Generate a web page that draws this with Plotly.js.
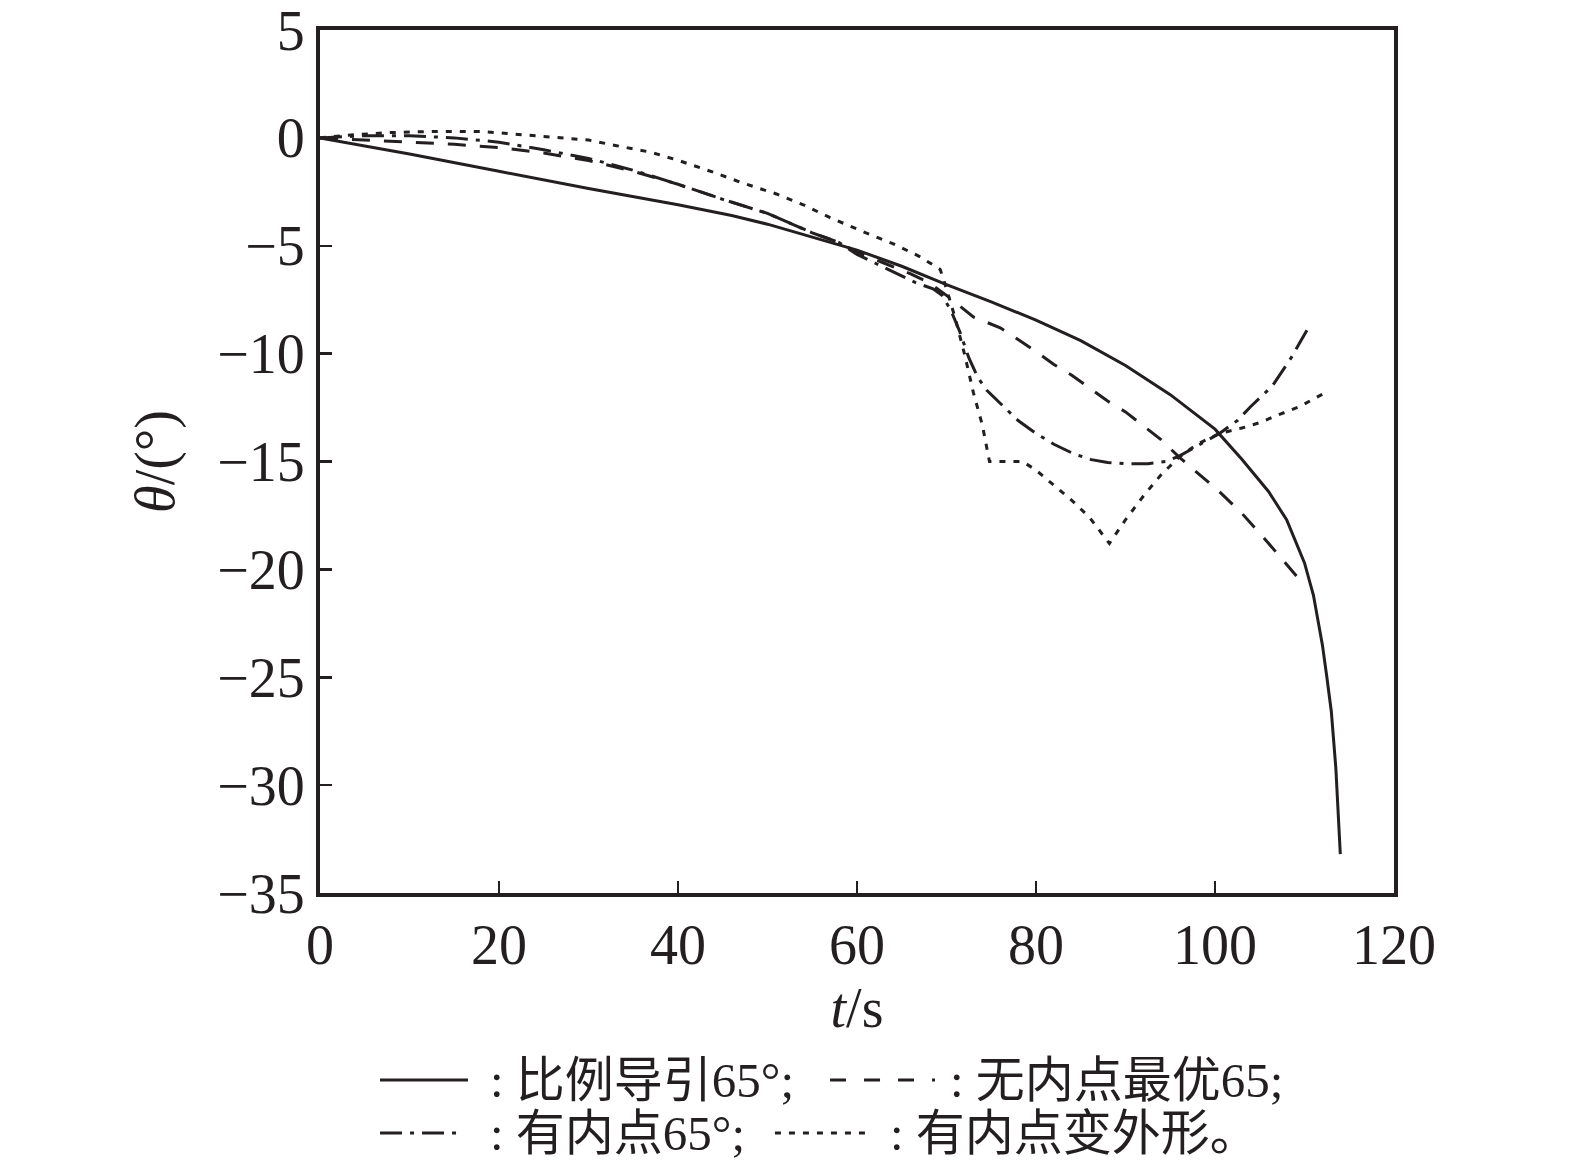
<!DOCTYPE html>
<html>
<head>
<meta charset="utf-8">
<script src="https://cdn.plot.ly/plotly-3.0.1.min.js"></script>
<style>
  body { margin: 0; background: #fff; }
  #chart { width: 1575px; height: 1169px; }
</style>
</head>
<body>
<div id="chart"></div>
<script>
// 比例导引65°
var tPN = [0, 10, 20, 30, 40, 46, 50, 55, 60, 65, 70, 75, 80, 85, 90, 95, 100, 103, 106, 108, 110, 111, 112, 112.5, 113, 113.5, 113.8, 114];
var thPN = [0, -0.75, -1.55, -2.35, -3.1, -3.6, -4.0, -4.6, -5.2, -5.95, -6.8, -7.6, -8.45, -9.4, -10.55, -11.9, -13.5, -14.9, -16.4, -17.7, -19.7, -21.2, -23.5, -25, -26.6, -29.2, -31.6, -33.2];

// 无内点最优65
var tNo = [0, 5, 10, 15, 20, 25, 30, 35, 40, 45, 50, 55, 58, 60, 63, 66, 68, 70, 73, 76, 78, 80, 82, 84, 86, 88, 90, 92, 94, 96, 98, 100.5, 103, 106, 109.5];
var thNo = [0, -0.1, -0.2, -0.3, -0.45, -0.7, -1.05, -1.55, -2.15, -2.85, -3.5, -4.4, -4.85, -5.3, -5.8, -6.3, -6.7, -7.3, -8.3, -8.8, -9.35, -9.9, -10.5, -11.0, -11.6, -12.2, -12.7, -13.35, -14.0, -14.8, -15.5, -16.4, -17.4, -18.8, -20.5];

// 有内点65°
var tIn = [0, 5, 10, 15, 20, 25, 30, 35, 40, 45, 50, 55, 58, 60, 62, 64.5, 66.5, 68.5, 69.5, 70.5, 71.5, 72.5, 73.5, 74.5, 76, 78, 80, 82, 84, 86, 88, 90, 92.5, 94.5, 96, 98, 100.5, 102.5, 104, 106.4, 108.5, 110.7];
var thIn = [0, 0.1, 0.1, 0, -0.2, -0.55, -0.95, -1.5, -2.15, -2.85, -3.5, -4.4, -4.85, -5.4, -5.8, -6.3, -6.7, -7.0, -7.3, -8.0, -9.0, -10.2, -11.1, -11.7, -12.3, -13.1, -13.7, -14.2, -14.6, -14.9, -15.05, -15.1, -15.1, -15.0, -14.75, -14.3, -13.7, -13.1, -12.45, -11.5, -10.2, -8.6];

// 有内点变外形
var tShape = [0, 3, 8, 13, 18, 21, 24, 27, 30, 33, 37, 40, 44, 47, 51, 54, 57, 61, 64, 67, 69.3, 70, 71, 72, 73, 74, 74.8, 78.5, 80, 82, 84, 86, 88.2, 90, 92, 94, 96, 98, 100.5, 103, 105, 107, 109.5, 111, 112.4];
var thShape = [0, 0.12, 0.25, 0.3, 0.3, 0.2, 0.1, 0, -0.1, -0.35, -0.67, -1.04, -1.6, -2.06, -2.6, -3.1, -3.7, -4.4, -4.9, -5.5, -6.1, -7.0, -8.4, -10.0, -11.8, -13.3, -15, -15, -15.4, -16.1, -16.8, -17.6, -18.8, -17.7, -16.6, -15.6, -14.8, -14.2, -13.7, -13.45, -13.2, -12.85, -12.45, -12.1, -11.8];

var names = ['比例导引65°;', '无内点最优65;', '有内点65°;', '有内点变外形。'];
var xTicks = [0, 20, 40, 60, 80, 100, 120];
var yTicks = [5, 0, -5, -10, -15, -20, -25, -30, -35];

var ink = '#231f20';
var serif = 'Liberation Serif, Times New Roman, serif';
var cjk = 'Liberation Serif, Noto Sans CJK SC, serif';

var dashes = ['solid', '18px,14px', '22px,8px,4px,8px', '6px,8px'];

var data = [
  {x: tPN, y: thPN, name: names[0], type: 'scatter', mode: 'lines', line: {color: ink, width: 3, dash: dashes[0]}},
  {x: tNo, y: thNo, name: names[1], type: 'scatter', mode: 'lines', line: {color: ink, width: 3, dash: dashes[1]}},
  {x: tIn, y: thIn, name: names[2], type: 'scatter', mode: 'lines', line: {color: ink, width: 3, dash: dashes[2]}},
  {x: tShape, y: thShape, name: names[3], type: 'scatter', mode: 'lines', line: {color: ink, width: 3, dash: dashes[3]}}
];

// legend drawn by hand, two rows like the original figure
var row1 = -0.2167, row2 = -0.2781;
var samples = [
  {x0: 0.0559, x1: 0.1378, y: row1, dash: 'solid'},
  {x0: 0.4749, x1: 0.5726, y: row1, dash: '16px,18px'},
  {x0: 0.0559, x1: 0.1322, y: row2, dash: '22px,8px,4px,8px'},
  {x0: 0.4236, x1: 0.5102, y: row2, dash: '6px,8px'}
];
var labelX = [0.1564, 0.5847, 0.1564, 0.5289];
var labelY = [row1, row1, row2, row2];

var shapes = samples.map(function (s) {
  return {type: 'line', xref: 'paper', yref: 'paper', x0: s.x0, x1: s.x1, y0: s.y, y1: s.y,
          line: {color: ink, width: 3, dash: s.dash}};
});

var annotations = names.map(function (n, i) {
  return {xref: 'paper', yref: 'paper', x: labelX[i], y: labelY[i], xanchor: 'left', yanchor: 'middle',
          text: ': ' + n, showarrow: false, font: {family: cjk, size: 49, color: ink}};
});

var layout = {
  width: 1575,
  height: 1169,
  margin: {l: 320, r: 181, t: 30, b: 276},
  paper_bgcolor: '#fff',
  plot_bgcolor: '#fff',
  showlegend: false,
  xaxis: {
    range: [0, 120],
    tickvals: xTicks,
    ticks: 'inside', ticklen: 12, tickwidth: 2.5, tickcolor: ink,
    showline: true, linewidth: 4, linecolor: ink, mirror: true,
    showgrid: false, zeroline: false,
    ticklabeloverflow: 'allow',
    tickfont: {family: serif, size: 56, color: ink},
    title: {text: '<i>t</i>/s', font: {family: serif, size: 56, color: ink}, standoff: 14}
  },
  yaxis: {
    range: [-35, 5],
    tickvals: yTicks,
    ticktext: yTicks.map(function (v) { return v < 0 ? '\u2212' + Math.abs(v) : String(v); }),
    ticks: 'inside', ticklen: 12, tickwidth: 2.5, tickcolor: ink,
    showline: true, linewidth: 4, linecolor: ink, mirror: true,
    showgrid: false, zeroline: false,
    ticklabeloverflow: 'allow',
    tickfont: {family: serif, size: 56, color: ink},
    title: {text: '<i>θ</i>/(°)', font: {family: serif, size: 56, color: ink}, standoff: 26}
  },
  shapes: shapes,
  annotations: annotations
};

Plotly.newPlot('chart', data, layout, {staticPlot: true});
</script>
</body>
</html>
